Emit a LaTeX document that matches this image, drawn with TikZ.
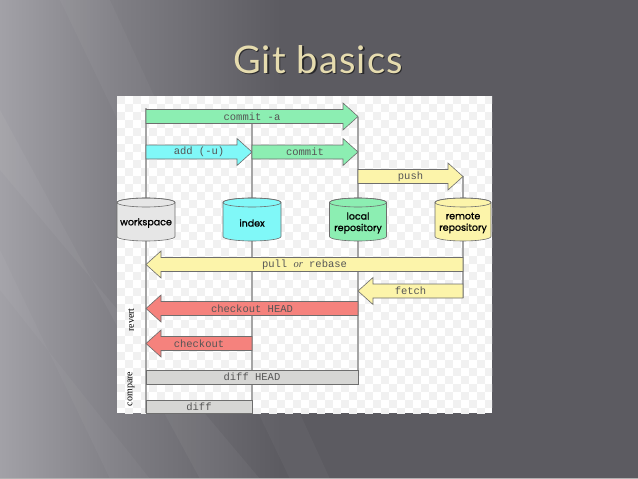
\documentclass[tikz,border=0pt]{standalone}
\usepackage{fontspec}
\setmainfont{Liberation Serif}
\setmonofont{Liberation Mono}
\newfontfamily\cylfont[FakeBold=1.2]{Poppins}
\newfontfamily\titlefont[LetterSpace=3]{Lato}
\definecolor{bgbase}{RGB}{92,91,97}
\definecolor{bgmid}{RGB}{128,127,133}
\definecolor{bglight}{RGB}{162,161,167}
\definecolor{titlecol}{RGB}{230,220,175}
\definecolor{checker}{RGB}{241,241,241}
\definecolor{gitgreen}{RGB}{140,238,178}
\definecolor{gitcyan}{RGB}{128,248,248}
\definecolor{gityellow}{RGB}{252,244,170}
\definecolor{gitred}{RGB}{245,130,125}
\definecolor{gitgray}{RGB}{214,214,212}
\definecolor{wsgray}{RGB}{230,230,230}
\definecolor{edgegray}{RGB}{110,110,110}
\definecolor{linegray}{RGB}{165,165,165}
\definecolor{txtgray}{RGB}{85,85,85}
\pgfdeclarehorizontalshading{bgshade}{100bp}{color(0bp)=(bglight); color(25bp)=(bglight); color(34bp)=(bgmid); color(47bp)=(bgbase); color(100bp)=(bgbase)}
\tikzset{
  lbl/.style={font=\ttfamily\fontsize{10.5}{12}\selectfont, text=txtgray, inner sep=0pt},
  arr/.style={draw=edgegray, line width=0.6pt},
  vline/.style={draw=linegray, line width=1.4pt},
  cyl/.style={draw=edgegray, line width=0.6pt},
  cyltext/.style={font=\cylfont\fontsize{9.5}{11.5}\selectfont, align=center, inner sep=0pt},
  sidetext/.style={font=\fontsize{10}{12}\selectfont, rotate=90, inner sep=0pt},
}
% right-pointing arrow: x1 (tail), x2 (tip), y, colour, name, text
\newcommand\gitR[6]{%
  \filldraw[arr, fill=#4] (#1,#3-7) -- (#2-15,#3-7) -- (#2-15,#3-13.5) -- (#2,#3)
    -- (#2-15,#3+13.5) -- (#2-15,#3+7) -- (#1,#3+7) -- cycle;
  \node[lbl] (#5) at ({(#1+#2)/2},#3) {#6};}
% left-pointing arrow: x1 (tail), x2 (tip), y, colour, name, text
\newcommand\gitL[6]{%
  \filldraw[arr, fill=#4] (#1,#3-7) -- (#2+15,#3-7) -- (#2+15,#3-13.5) -- (#2,#3)
    -- (#2+15,#3+13.5) -- (#2+15,#3+7) -- (#1,#3+7) -- cycle;
  \node[lbl] (#5) at ({(#1+#2)/2},#3) {#6};}
% cylinder: centre x, half width (pt), colour, name, text
\newcommand\gitcyl[5]{%
  \filldraw[cyl, fill=#3] (#1-#2,202.5) -- (#1-#2,236.5)
    arc[start angle=180, end angle=360, x radius=#2pt, y radius=4.5pt]
    -- (#1+#2,202.5)
    arc[start angle=0, end angle=180, x radius=#2pt, y radius=4.5pt] -- cycle;
  \draw[cyl] (#1,202.5) ellipse[x radius=#2pt, y radius=4.5pt];
  \node[cyltext] (#4) at (#1,223) {#5};}
\begin{document}
\begin{tikzpicture}[x=1pt, y=-1pt]
\useasboundingbox (0,0) rectangle (638,479);
% background
\shade[shading=bgshade] (0,0) rectangle (638,479);
\fill[white, opacity=0.045] (0,110) -- (0,170) -- (260,479) -- (200,479) -- cycle;
\fill[white, opacity=0.035] (0,250) -- (0,290) -- (150,479) -- (110,479) -- cycle;
\fill[white, opacity=0.035] (60,0) -- (110,0) -- (330,479) -- (290,479) -- cycle;
\draw[gray!60, line width=0.8pt] (0,478) -- (638,478);
% title
\node[font=\titlefont\fontsize{38}{40}\selectfont, text=black, opacity=0.55, anchor=base, inner sep=0pt] (titleshadow) at (319.5,74.5) {Git basics};
\node[font=\titlefont\fontsize{38}{40}\selectfont, text=titlecol, anchor=base, inner sep=0pt] (title) at (318,73) {Git basics};
% panel with checkerboard
\begin{scope}
  \clip (117,96) rectangle (492,413);
  \fill[white] (117,96) rectangle (492,413);
  \foreach \i in {0,2,...,46} {
    \foreach \j in {0,2,...,40} {
      \fill[checker] (117+\i*8,96+\j*8) rectangle +(8,8);
      \fill[checker] (125+\i*8,104+\j*8) rectangle +(8,8);
    }
  }
\end{scope}
% vertical lines
\coordinate (wsTop) at (146,108);
\coordinate (wsBot) at (146,413);
\coordinate (ixTop) at (252,120);
\coordinate (ixBot) at (252,413);
\coordinate (lrTop) at (358,116.5);
\coordinate (lrBot) at (358,384);
\coordinate (rrTop) at (463,176);
\coordinate (rrBot) at (463,298);
\draw[vline] (wsTop) -- (wsBot);
\draw[vline] (ixTop) -- (ixBot);
\draw[vline] (lrTop) -- (lrBot);
\draw[vline] (rrTop) -- (rrBot);
% cylinders
\gitcyl{146}{29}{wsgray}{workspace}{workspace}
\gitcyl{252}{29}{gitcyan}{index}{index}
\gitcyl{358}{28.5}{gitgreen}{local}{local\\repository}
\gitcyl{463}{28}{gityellow}{remote}{remote\\repository}
% arrows
\gitR{146}{358}{116.5}{gitgreen}{commita}{commit -a}
\gitR{146}{252}{152}{gitcyan}{add}{add (-u)}
\gitR{252}{358}{152}{gitgreen}{commit}{commit}
\gitR{358}{463}{176.5}{gityellow}{push}{push}
\gitL{463}{146}{264.5}{gityellow}{pull}{pull {\rmfamily\itshape or} rebase}
\gitL{463}{358}{291}{gityellow}{fetch}{fetch}
\gitL{358}{146}{308.5}{gitred}{checkouthead}{checkout HEAD}
\gitL{252}{146}{343.5}{gitred}{checkout}{checkout}
% compare bars
\filldraw[arr, fill=gitgray] (146,370) rectangle (358,384);
\node[lbl] (diffhead) at (252,377) {diff HEAD};
\filldraw[arr, fill=gitgray] (146,400) rectangle (252,413);
\node[lbl] (diff) at (199,406.5) {diff};
% side labels
\node[sidetext] (revert) at (131,320) {revert};
\node[sidetext] (compare) at (131,389) {compare};
\end{tikzpicture}
\end{document}
